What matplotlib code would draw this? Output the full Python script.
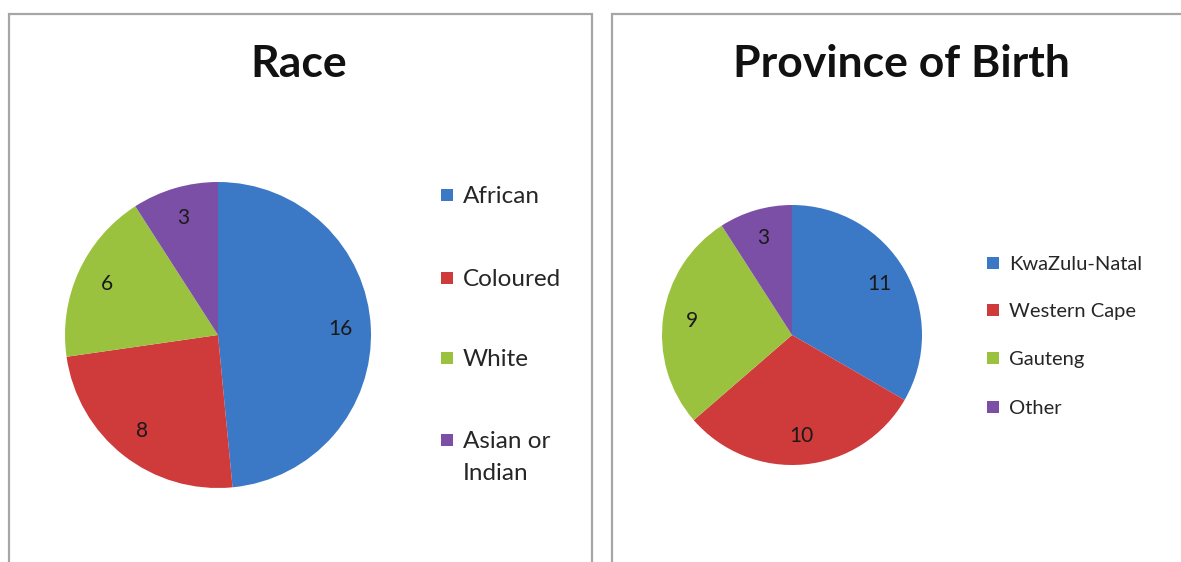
import matplotlib.pyplot as plt
import matplotlib.patches as mpatches

# data
race_labels = ['African', 'Coloured', 'White', 'Asian or\nIndian']
race_counts = [16, 8, 6, 3]
province_labels = ['KwaZulu-Natal', 'Western Cape', 'Gauteng', 'Other']
province_counts = [11, 10, 9, 3]
colors = ['#3B78C6', '#CF3A3A', '#9BC23E', '#7B4FA6']

W, H = 1181, 562
plt.rcParams['font.family'] = ['Lato', 'DejaVu Sans']

fig = plt.figure(figsize=(W / 100, H / 100), dpi=100)
fig.patch.set_facecolor('white')


def px_box(x0, y0, x1, y1):
    # pixel box (top-left origin) -> figure fraction [l, b, w, h]
    return [x0 / W, 1 - y1 / H, (x1 - x0) / W, (y1 - y0) / H]


def panel(x0, y0, x1, y1):
    l, b, w, h = px_box(x0, y0, x1, y1)
    fig.patches.append(mpatches.Rectangle((l, b), w, h, transform=fig.transFigure,
                                          fill=False, edgecolor='#a6a6a6', lw=1.6))


def draw_pie(cx, cy, r, counts, labeldist):
    ax = fig.add_axes(px_box(cx - r, cy - r, cx + r, cy + r))
    wedges, texts = ax.pie(counts, colors=colors, startangle=90, counterclock=False,
                           labels=[str(c) for c in counts], labeldistance=labeldist,
                           wedgeprops=dict(linewidth=0))
    for t in texts:
        t.set_ha('center')
        t.set_va('center')
        t.set_fontsize(15)
        t.set_color('#1a1a1a')
    ax.set_xlim(-1, 1)
    ax.set_ylim(-1, 1)
    ax.axis('off')
    return ax


def draw_legend(x, ys, labels, size, box, gap):
    # shift so the first text line is centred on the colour square
    off = 0.36 * size * 100 / 72
    for y, lab, col in zip(ys, labels, colors):
        l, b, w, h = px_box(x, y - box / 2, x + box, y + box / 2)
        fig.patches.append(mpatches.Rectangle((l, b), w, h, transform=fig.transFigure,
                                              facecolor=col, edgecolor='none'))
        fig.text((x + box + gap) / W, 1 - (y - off) / H, lab, fontsize=size,
                 color='#262626', ha='left', va='top', linespacing=1.65)


# panels
panel(9, 14, 592, 600)
panel(612, 14, 1200, 600)

# left chart
fig.text(299 / W, 1 - 64 / H, 'Race', fontsize=32, fontweight='bold',
         ha='center', va='center', color='#111111')
draw_pie(218, 335, 153, race_counts, 0.8)
draw_legend(441, [195, 278, 358, 440], race_labels, 17.5, 12, 10)

# right chart
fig.text(901 / W, 1 - 64 / H, 'Province of Birth', fontsize=32, fontweight='bold',
         ha='center', va='center', color='#111111')
draw_pie(792, 335, 130, province_counts, 0.78)
draw_legend(987, [263, 310, 358, 407], province_labels, 14.5, 12, 10)

fig.savefig('out.png', dpi=100)
